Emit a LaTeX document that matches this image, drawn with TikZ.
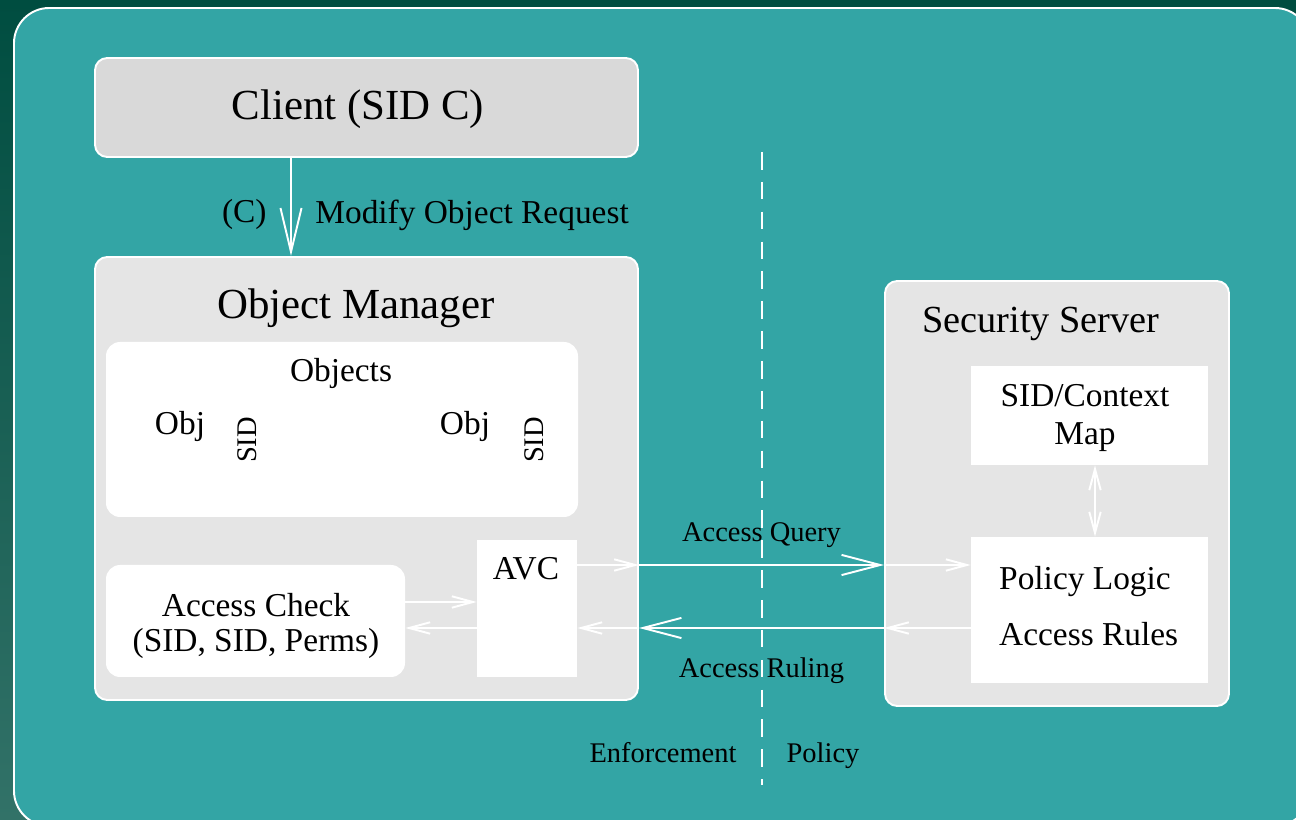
\documentclass[tikz,border=0pt]{standalone}
\usepackage{fontspec}
\setmainfont{Liberation Serif}
\usetikzlibrary{arrows.meta,fit,positioning}
\definecolor{deepgreen}{RGB}{0,77,64}
\definecolor{mossgreen}{RGB}{50,114,104}
\definecolor{panelteal}{RGB}{51,165,165}
\definecolor{clientgray}{RGB}{217,217,217}
\definecolor{mgrgray}{RGB}{229,229,229}
\tikzset{
  grayframe/.style   = {draw=white, line width=1.1pt, rounded corners=7pt,
                        fill=mgrgray, inner sep=0pt},
  clientframe/.style = {grayframe, fill=clientgray},
  whitecard/.style   = {fill=white, rounded corners=8pt, inner sep=0pt},
  whitebox/.style    = {fill=white, inner sep=0pt},
  flow/.style        = {draw=white, line width=1.1pt,
                        >={Straight Barb[length=12pt,width=6.5pt]}, ->},
  bigflow/.style     = {flow, >={Straight Barb[length=22pt,width=11.5pt]}},
  divider/.style     = {draw=white, line width=1.1pt, dash pattern=on 10pt off 7pt},
  hugetext/.style    = {font=\fontsize{24.4}{28}\selectfont},
  titletext/.style   = {font=\fontsize{21.8}{25}\selectfont},
  bodytext/.style    = {font=\fontsize{19}{20}\selectfont},
  smalltext/.style   = {font=\fontsize{16.2}{19}\selectfont},
}

\begin{document}
\begin{tikzpicture}[x=0.02cm, y=-0.02cm]
	\useasboundingbox (0,0) rectangle (1296,820);
	% backdrop and panel
	\shade[top color=deepgreen, bottom color=mossgreen] (0,0) rectangle (1296,820);
	\draw[draw=white, line width=1.1pt, fill=panelteal, rounded corners=20pt]
		(14,8) rectangle (1310,826);

	% enforcement side
	\node[clientframe, fit={(95,58) (638,157)}] (client) {};
	\node[hugetext] (clienttext) at (358,109) {Client (SID C)};
	\node[grayframe, fit={(95,257) (638,700)}] (mgr) {};
	\node[hugetext] (mgrtitle) at (356,308) {Object Manager};

	\node[whitecard, fit={(106,342) (578,517)}] (objs) {};
	\node[bodytext] (objstitle) at (341,373) {Objects};
	\node[bodytext] (obja) at (180,426) {Obj};
	\node[smalltext, rotate=90] (sida) at (247,440) {SID};
	\node[bodytext] (objb) at (465,426) {Obj};
	\node[smalltext, rotate=90] (sidb) at (534,440) {SID};

	\node[whitecard, fit={(106,565) (405,677)}] (check) {};
	\node[bodytext, align=center] (checktext) at (256,626)
		{Access Check\\(SID, SID, Perms)};
	\node[whitebox, fit={(477,540) (577,677)}] (avc) {};
	\node[bodytext] (avctext) at (526,569) {AVC};

	% policy side
	\node[grayframe, fit={(885,281) (1229,706)}] (srv) {};
	\node[titletext] (srvtitle) at (1041,324) {Security Server};
	\node[whitebox, fit={(971,366) (1208,465)}] (map) {};
	\node[align=center, font=\fontsize{19}{21.5}\selectfont] (maptext) at (1085,418)
		{SID/Context\\Map};
	\node[whitebox, fit={(971,537) (1208,683)}] (logic) {};
	\node[bodytext, anchor=base west] (logictext) at (993,590) {Policy Logic};
	\node[bodytext, anchor=base west] (rulestext) at (993,646) {Access Rules};

	% request from the client
	\coordinate (req) at (291,0);
	\draw[flow, >={Straight Barb[length=25pt,width=12pt]}]
		(client.south -| req) -- (mgr.north -| req)
		node[midway, left=10pt, yshift=-4.5pt, bodytext] {(C)}
		node[midway, right=10pt, yshift=-4.5pt, bodytext] {Modify Object Request};

	% check <-> avc
	\coordinate (c1) at (0,602);
	\coordinate (c2) at (0,628);
	\draw[flow] (check.east |- c1) -- (avc.west |- c1);
	\draw[flow] (avc.west |- c2) -- (check.east |- c2);

	% query and ruling
	\coordinate (q) at (0,565);
	\coordinate (r) at (0,628);
	\draw[flow] (avc.east |- q) -- (mgr.east |- q);
	\draw[bigflow] (mgr.east |- q) -- (srv.west |- q)
		node[midway, above=6pt, smalltext] {Access Query};
	\draw[flow] (srv.west |- q) -- (logic.west |- q);
	\draw[flow] (logic.west |- r) -- (srv.west |- r);
	\draw[bigflow] (srv.west |- r) -- (mgr.east |- r)
		node[midway, below=13pt, smalltext] {Access Ruling};
	\draw[flow] (mgr.east |- r) -- (avc.east |- r);

	% map <-> logic
	\coordinate (mp) at (1095,0);
	\draw[flow, <->] (map.south -| mp) -- (logic.north -| mp);

	% boundary
	\coordinate (divtop) at (762,152);
	\coordinate (divbot) at (762,785);
	\draw[divider] (divtop) -- (divbot);
	\node[smalltext, anchor=base] (enf) at (663,763) {Enforcement};
	\node[smalltext, anchor=base] (pol) at (823,763) {Policy};
\end{tikzpicture}
\end{document}
